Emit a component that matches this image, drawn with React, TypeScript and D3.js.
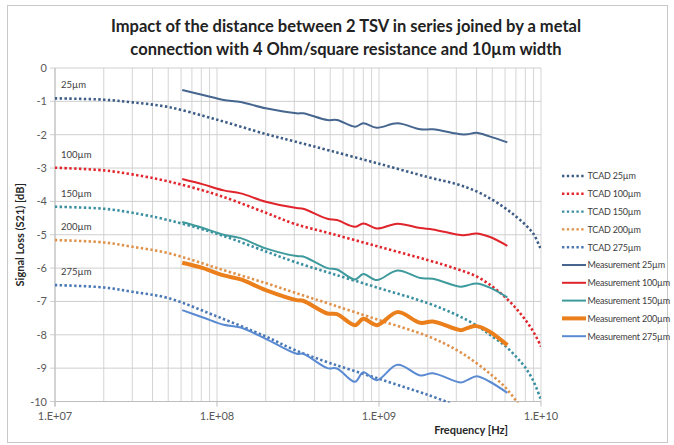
import React from "react";
import * as d3 from "d3";

// Simulated (TCAD) loss, dB, sampled on a common frequency grid
const TCAD_FREQ = [1e7, 2e7, 3e7, 5e7, 1e8, 2e8, 3e8, 5e8, 1e9, 2e9, 3e9, 4e9, 5e9, 6e9, 7e9, 8e9, 9e9, 1e10];
const TCAD_25 = [-0.91, -0.95, -1.03, -1.17, -1.55, -1.98, -2.2, -2.48, -2.87, -3.27, -3.48, -3.7, -3.95, -4.2, -4.45, -4.7, -4.98, -5.45];
const TCAD_100 = [-2.99, -3.07, -3.19, -3.4, -3.8, -4.34, -4.67, -4.96, -5.36, -5.76, -6.02, -6.25, -6.55, -6.87, -7.2, -7.55, -7.92, -8.35];
const TCAD_150 = [-4.16, -4.22, -4.34, -4.56, -4.97, -5.5, -5.81, -6.15, -6.6, -7.05, -7.4, -7.72, -8.05, -8.33, -8.65, -8.98, -9.4, -9.95];
const TCAD_200 = [-5.16, -5.23, -5.36, -5.55, -6.0, -6.45, -6.73, -7.08, -7.56, -8.04, -8.45, -8.85, -9.22, -9.57, -9.97, -10.35, null, null];
const TCAD_275 = [-6.51, -6.58, -6.71, -6.9, -7.45, -8.05, -8.45, -8.85, -9.32, -9.8, -10.12, null, null, null, null, null, null, null];

// Measured loss, dB
const MEAS_FREQ = [6.1e7, 8.2e7, 1.1e8, 1.4e8, 2.0e8, 3.1e8, 3.4e8, 4.8e8, 5.5e8, 7.1e8, 8.0e8, 9.7e8, 1.3e9, 1.8e9, 2.15e9, 3.2e9, 3.5e9, 4.0e9, 4.8e9, 6.2e9];
const MEAS_25 = [-0.66, -0.81, -0.96, -1.02, -1.21, -1.36, -1.36, -1.56, -1.56, -1.76, -1.66, -1.79, -1.66, -1.84, -1.84, -1.99, -1.99, -1.94, -2.05, -2.23];
const MEAS_100 = [-3.33, -3.49, -3.67, -3.76, -4.01, -4.2, -4.22, -4.52, -4.56, -4.76, -4.66, -4.81, -4.67, -4.8, -4.84, -5.01, -5.0, -4.96, -5.06, -5.33];
const MEAS_150 = [-4.62, -4.8, -5.0, -5.1, -5.41, -5.64, -5.65, -6.0, -6.04, -6.34, -6.18, -6.36, -6.07, -6.3, -6.32, -6.56, -6.52, -6.46, -6.58, -6.88];
const MEAS_200 = [-5.84, -6.0, -6.22, -6.34, -6.66, -6.96, -6.98, -7.36, -7.38, -7.71, -7.52, -7.71, -7.32, -7.64, -7.6, -7.86, -7.8, -7.74, -7.9, -8.31];
const MEAS_275 = [-7.26, -7.48, -7.7, -7.78, -8.12, -8.57, -8.57, -9.0, -9.01, -9.41, -9.12, -9.36, -8.9, -9.22, -9.15, -9.43, -9.36, -9.24, -9.4, -9.74];

const Y_TICKS = [0, -1, -2, -3, -4, -5, -6, -7, -8, -9, -10];
const X_TICKS = [1e7, 1e8, 1e9, 1e10];
const X_TICK_LABELS = ["1.E+07", "1.E+08", "1.E+09", "1.E+10"];
const SPACINGS = ["25µm", "100µm", "150µm", "200µm", "275µm"];

const TITLE_LINES = [
  "Impact of the distance between 2 TSV in series joined by a metal",
  "connection with 4 Ohm/square resistance and 10µm width",
];

type Series = {
  name: string;
  freq: number[];
  values: (number | null)[];
  color: string;
  dotted: boolean;
  width: number;
};

const SERIES: Series[] = [
  { name: "TCAD 25µm", freq: TCAD_FREQ, values: TCAD_25, color: "#3d5d86", dotted: true, width: 2.6 },
  { name: "TCAD 100µm", freq: TCAD_FREQ, values: TCAD_100, color: "#e2262d", dotted: true, width: 2.6 },
  { name: "TCAD 150µm", freq: TCAD_FREQ, values: TCAD_150, color: "#3a8fa0", dotted: true, width: 2.6 },
  { name: "TCAD 200µm", freq: TCAD_FREQ, values: TCAD_200, color: "#e0914a", dotted: true, width: 2.6 },
  { name: "TCAD 275µm", freq: TCAD_FREQ, values: TCAD_275, color: "#4a78b4", dotted: true, width: 2.6 },
  { name: "Measurement 25µm", freq: MEAS_FREQ, values: MEAS_25, color: "#46668f", dotted: false, width: 2 },
  { name: "Measurement 100µm", freq: MEAS_FREQ, values: MEAS_100, color: "#e0242c", dotted: false, width: 2 },
  { name: "Measurement 150µm", freq: MEAS_FREQ, values: MEAS_150, color: "#3e9a9c", dotted: false, width: 2 },
  { name: "Measurement 200µm", freq: MEAS_FREQ, values: MEAS_200, color: "#ea7f1c", dotted: false, width: 4 },
  { name: "Measurement 275µm", freq: MEAS_FREQ, values: MEAS_275, color: "#5a8bd2", dotted: false, width: 2 },
];

const TCAD_SETS = [TCAD_25, TCAD_100, TCAD_150, TCAD_200, TCAD_275];

const W = 674;
const H = 445;
const PLOT = { left: 55, right: 541, top: 68, bottom: 401.5 };
const FONT = "Lato, 'Open Sans', sans-serif";

export default function App() {
  const x = d3.scaleLog().domain([1e7, 1e10]).range([PLOT.left, PLOT.right]);
  const y = d3.scaleLinear().domain([-10, 0]).range([PLOT.bottom, PLOT.top]);

  const minorTicks: number[] = [];
  [1e7, 1e8, 1e9].forEach((d) => {
    for (let k = 1; k <= 9; k++) minorTicks.push(d * k);
  });
  minorTicks.push(1e10);

  const line = (s: Series) =>
    d3
      .line<number>()
      .defined((_, i) => s.values[i] !== null)
      .x((_, i) => x(s.freq[i]))
      .y((v) => y(v as number))
      .curve(d3.curveCatmullRom.alpha(0.5))(s.values as number[]) || "";

  const legendX = 562;
  const legendY0 = 176;
  const legendStep = 17.8;

  return (
    <div style={{ position: "absolute", left: 0, top: 0 }}>
      <svg width={W} height={H} style={{ display: "block", background: "#fff" }}>
        <defs>
          <clipPath id="plot-clip">
            <rect x={PLOT.left} y={PLOT.top - 2} width={PLOT.right - PLOT.left} height={PLOT.bottom - PLOT.top + 3} />
          </clipPath>
        </defs>
        <rect x={7.5} y={5.5} width={660} height={437} fill="#fff" stroke="#c9c9c9" />

        {TITLE_LINES.map((t, i) => (
          <text
            key={t}
            x={346}
            y={32 + i * 23}
            textAnchor="middle"
            fontFamily={FONT}
            fontWeight={700}
            fontSize={16.5}
            fill="#222"
          >
            {t}
          </text>
        ))}

        {/* grid */}
        {minorTicks.map((f) => (
          <line key={f} x1={x(f)} x2={x(f)} y1={PLOT.top} y2={PLOT.bottom} stroke="#d4d4d4" strokeWidth={1} />
        ))}
        {Y_TICKS.map((v) => (
          <line key={v} x1={PLOT.left - 5} x2={PLOT.right} y1={y(v)} y2={y(v)} stroke="#cfcfcf" strokeWidth={1} />
        ))}
        <line x1={PLOT.left} x2={PLOT.left} y1={PLOT.top} y2={PLOT.bottom + 5} stroke="#bdbdbd" />
        <line x1={PLOT.left} x2={PLOT.right} y1={PLOT.bottom} y2={PLOT.bottom} stroke="#bdbdbd" />
        {X_TICKS.map((f) => (
          <line key={f} x1={x(f)} x2={x(f)} y1={PLOT.bottom} y2={PLOT.bottom + 5} stroke="#bdbdbd" />
        ))}

        {/* tick labels */}
        {Y_TICKS.map((v) => (
          <text key={v} x={47} y={y(v) + 4} textAnchor="end" fontFamily={FONT} fontSize={11} fill="#595959">
            {v}
          </text>
        ))}
        {X_TICKS.map((f, i) => (
          <text key={f} x={x(f)} y={420} textAnchor="middle" fontFamily={FONT} fontSize={11} fill="#595959">
            {X_TICK_LABELS[i]}
          </text>
        ))}

        {/* axis titles */}
        <text
          transform={`translate(24,${(PLOT.top + PLOT.bottom) / 2}) rotate(-90)`}
          textAnchor="middle"
          fontFamily={FONT}
          fontWeight={700}
          fontSize={11}
          fill="#262626"
        >
          Signal Loss (S21) [dB]
        </text>
        <text x={471} y={434} textAnchor="middle" fontFamily={FONT} fontWeight={700} fontSize={11} fill="#262626">
          Frequency [Hz]
        </text>

        {/* series */}
        <g clipPath="url(#plot-clip)">
          {SERIES.map((s) => (
            <path
              key={s.name}
              d={line(s)}
              fill="none"
              stroke={s.color}
              strokeWidth={s.width}
              strokeDasharray={s.dotted ? "2.4 2.4" : undefined}
              strokeLinejoin="round"
            />
          ))}
        </g>

        {/* spacing labels beside each simulated curve */}
        {SPACINGS.map((lab, i) => (
          <text key={lab} x={61} y={y(TCAD_SETS[i][0] as number) - 10} fontFamily={FONT} fontSize={9.5} fill="#404040">
            {lab}
          </text>
        ))}

        {/* legend */}
        {SERIES.map((s, i) => {
          const ly = legendY0 + i * legendStep;
          return (
            <g key={s.name}>
              <line
                x1={legendX}
                x2={legendX + 24}
                y1={ly}
                y2={ly}
                stroke={s.color}
                strokeWidth={s.dotted ? 2.4 : s.width}
                strokeDasharray={s.dotted ? "2.4 2.4" : undefined}
              />
              <text
                x={legendX + 25.5}
                y={ly + 3.3}
                fontFamily={FONT}
                fontSize={9}
                letterSpacing={-0.2}
                fill="#404040"
              >
                {s.name}
              </text>
            </g>
          );
        })}
      </svg>
    </div>
  );
}
